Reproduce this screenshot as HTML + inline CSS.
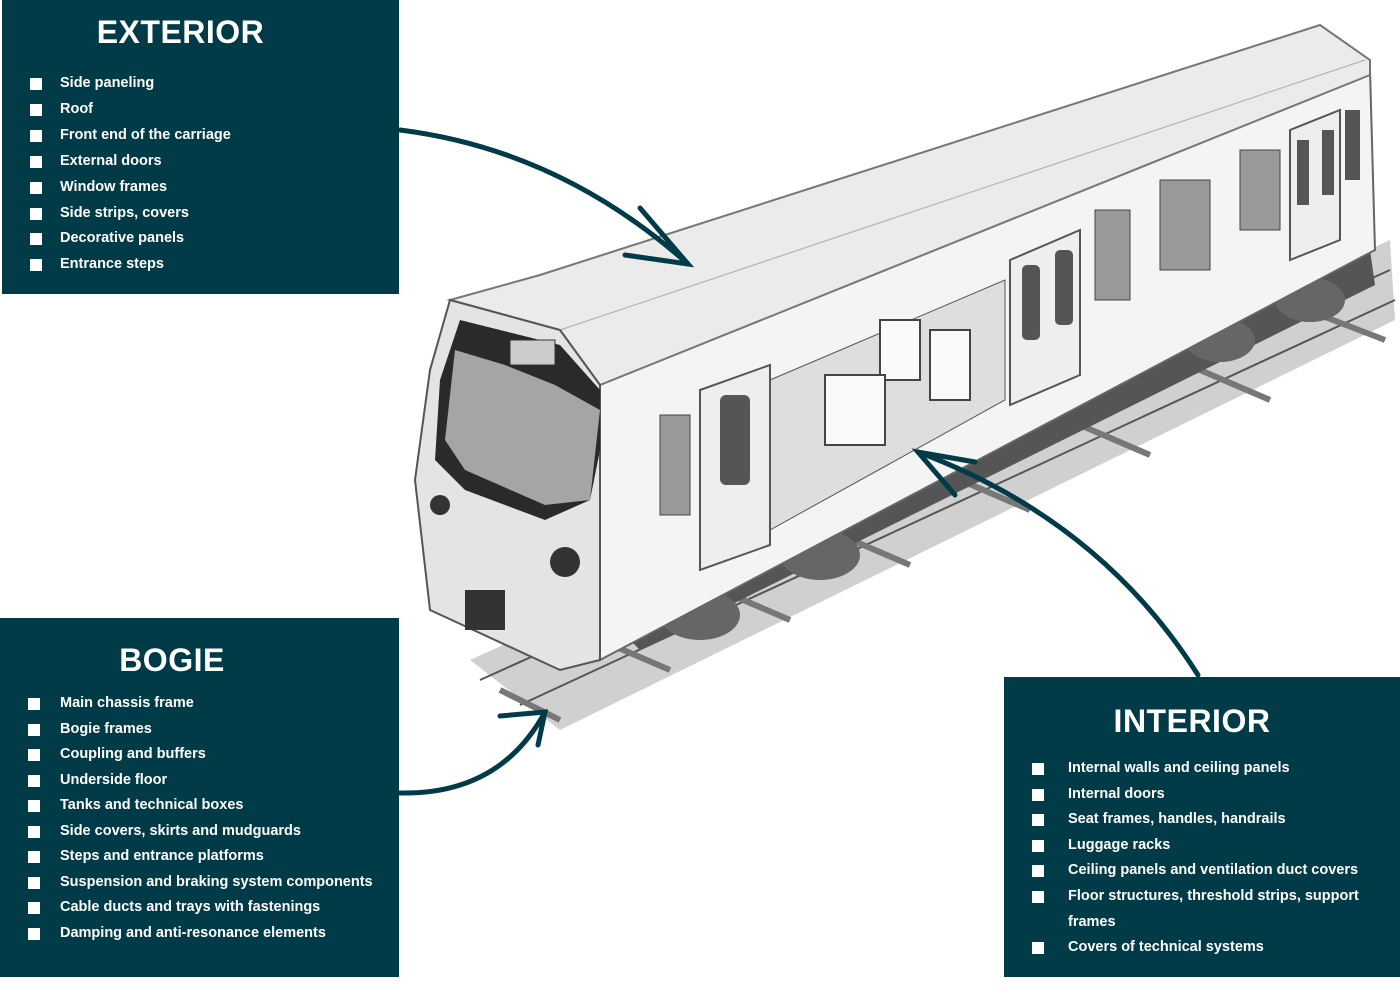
<!DOCTYPE html>
<html><head><meta charset="utf-8"><style>
body{margin:0;width:1400px;height:1000px;background:#fff;position:relative;overflow:hidden;font-family:"Liberation Sans",sans-serif}
.p{position:absolute;background:#023b48;color:#fff}
.p h2{margin:0;text-align:center;font-size:32px;font-weight:bold;letter-spacing:0.5px}
.p ul{list-style:none;margin:0;padding:0}
.p li{position:relative;font-size:14.5px;font-weight:bold;padding-left:58px}
.p li:before{content:"";position:absolute;left:28px;top:7px;width:12px;height:12px;background:#fff}
svg{position:absolute;left:0;top:0}
</style></head><body>
<svg width="1400" height="1000" viewBox="0 0 1400 1000">
<polygon points="470,660 1390,240 1395,320 560,730" fill="#d0d0d0"/>
<g stroke="#555" stroke-width="2">
<line x1="480" y1="680" x2="1390" y2="270"/><line x1="520" y1="705" x2="1395" y2="300"/>
</g>
<g stroke="#777" stroke-width="6">
<line x1="500" y1="690" x2="560" y2="720"/><line x1="600" y1="640" x2="670" y2="670"/><line x1="720" y1="590" x2="790" y2="620"/><line x1="840" y1="535" x2="910" y2="565"/><line x1="960" y1="480" x2="1030" y2="510"/><line x1="1080" y1="425" x2="1150" y2="455"/><line x1="1200" y1="370" x2="1270" y2="400"/><line x1="1320" y1="315" x2="1385" y2="340"/>
</g>
<polygon points="590,600 1370,250 1375,285 640,650" fill="#555"/>
<g fill="#666"><ellipse cx="700" cy="615" rx="40" ry="25"/><ellipse cx="820" cy="555" rx="40" ry="25"/><ellipse cx="1220" cy="340" rx="35" ry="22"/><ellipse cx="1310" cy="300" rx="35" ry="22"/></g>
<polygon points="600,380 1370,70 1375,250 600,660" fill="#f4f4f4" stroke="#666" stroke-width="2"/>
<polygon points="450,300 540,275 1320,25 1370,60 1370,75 600,385 560,330" fill="#ebebeb" stroke="#777" stroke-width="2"/>
<polyline points="560,330 1365,60" stroke="#aaa" fill="none"/>
<polygon points="770,380 1005,280 1005,400 770,530" fill="#dedede" stroke="#555"/>
<g fill="#fafafa" stroke="#444" stroke-width="2"><rect x="880" y="320" width="40" height="60"/><rect x="930" y="330" width="40" height="70"/><rect x="825" y="375" width="60" height="70"/></g>
<g fill="#eee" stroke="#555" stroke-width="2"><polygon points="700,390 770,365 770,545 700,570"/><polygon points="1010,260 1080,230 1080,375 1010,405"/><polygon points="1290,130 1340,110 1340,240 1290,260"/></g>
<g fill="#555"><rect x="720" y="395" width="30" height="90" rx="6"/><rect x="1022" y="265" width="18" height="75" rx="5"/><rect x="1055" y="250" width="18" height="75" rx="5"/><rect x="1297" y="140" width="12" height="65"/><rect x="1322" y="130" width="12" height="65"/><rect x="1345" y="110" width="15" height="70"/></g>
<g fill="#999" stroke="#444"><rect x="1095" y="210" width="35" height="90"/><rect x="1160" y="180" width="50" height="90"/><rect x="1240" y="150" width="40" height="80"/><rect x="660" y="415" width="30" height="100"/></g>
<polygon points="450,300 560,330 600,385 600,660 560,670 430,610 415,480 430,370" fill="#e4e4e4" stroke="#555" stroke-width="2"/>
<polygon points="460,320 560,345 600,390 600,450 590,500 545,520 465,490 435,460 440,380" fill="#2a2a2a"/>
<polygon points="455,350 505,365 555,385 600,410 590,500 545,505 465,470 445,440" fill="#a5a5a5"/>
<rect x="510" y="340" width="45" height="25" fill="#ccc" stroke="#333"/>
<g fill="#333"><circle cx="565" cy="562" r="15"/><circle cx="440" cy="505" r="10"/><rect x="465" y="590" width="40" height="40"/></g>
<g stroke="#023b48" stroke-width="5" fill="none" stroke-linecap="round">
<path d="M400,130 Q560,150 688,264"/><path d="M640,208 L688,264 L625,255"/>
<path d="M400,793 Q500,795 545,712"/><path d="M500,716 L545,712 L538,745"/>
<path d="M1198,675 Q1100,520 918,452"/><path d="M975,462 L918,452 L955,495"/>
</g>
</svg>
<div class="p" style="left:2px;top:0;width:397px;height:294px">
<h2 style="padding-top:14px;padding-bottom:20px;margin-left:-40px">EXTERIOR</h2>
<ul style="line-height:25.9px">
<li>Side paneling</li><li>Roof</li><li>Front end of the carriage</li><li>External doors</li><li>Window frames</li><li>Side strips, covers</li><li>Decorative panels</li><li>Entrance steps</li></ul></div>
<div class="p" style="left:0;top:618px;width:399px;height:359px">
<h2 style="padding-top:24px;padding-bottom:12px;margin-left:-55px">BOGIE</h2>
<ul style="line-height:25.5px">
<li style="padding-left:60px">Main chassis frame</li><li style="padding-left:60px">Bogie frames</li><li style="padding-left:60px">Coupling and buffers</li><li style="padding-left:60px">Underside floor</li><li style="padding-left:60px">Tanks and technical boxes</li><li style="padding-left:60px">Side covers, skirts and mudguards</li><li style="padding-left:60px">Steps and entrance platforms</li><li style="padding-left:60px">Suspension and braking system components</li><li style="padding-left:60px">Cable ducts and trays with fastenings</li><li style="padding-left:60px">Damping and anti-resonance elements</li></ul></div>
<div class="p" style="left:1004px;top:677px;width:396px;height:300px">
<h2 style="padding-top:26px;padding-bottom:16px;margin-left:-20px">INTERIOR</h2>
<ul style="line-height:25.6px">
<li style="padding-left:64px">Internal walls and ceiling panels</li><li style="padding-left:64px">Internal doors</li><li style="padding-left:64px">Seat frames, handles, handrails</li><li style="padding-left:64px">Luggage racks</li><li style="padding-left:64px">Ceiling panels and ventilation duct covers</li><li style="padding-left:64px;padding-right:20px">Floor structures, threshold strips, support frames</li><li style="padding-left:64px">Covers of technical systems</li></ul></div>
</body></html>
